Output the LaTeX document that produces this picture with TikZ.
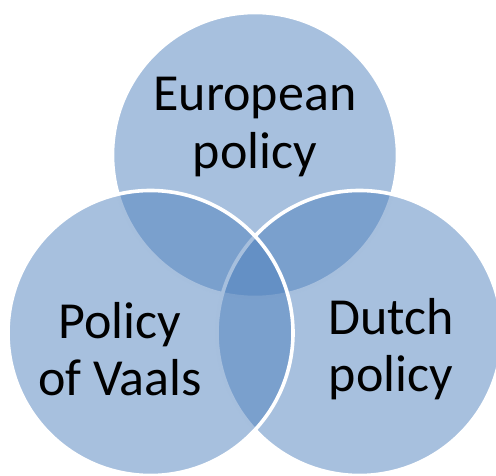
\documentclass[tikz,border=0pt]{standalone}
\usepackage{fontspec}
\setmainfont{Carlito}
\definecolor{vennblue}{RGB}{79,129,189}
\begin{document}
\begin{tikzpicture}[x=1pt,y=-1pt,
  venn/.style={circle, minimum size=285pt, inner sep=0pt, fill=vennblue, fill opacity=0.5, draw=white, draw opacity=1, line width=3.6pt},
  lbl/.style={align=center, font=\fontsize{52}{57.5}\selectfont, text=black, inner sep=0pt}]
\useasboundingbox (0,0) rectangle (496,476);
\node[venn] (eu) at (255,155) {};
\node[venn] (nl) at (359.5,333) {};
\node[venn] (va) at (150.5,333) {};
\node[lbl] (teu) at (255,127) {European\\policy};
\node[lbl] (tva) at (120,349) {Policy\\of Vaals};
\node[lbl] (tnl) at (391,349) {Dutch\\policy};
\end{tikzpicture}
\end{document}
